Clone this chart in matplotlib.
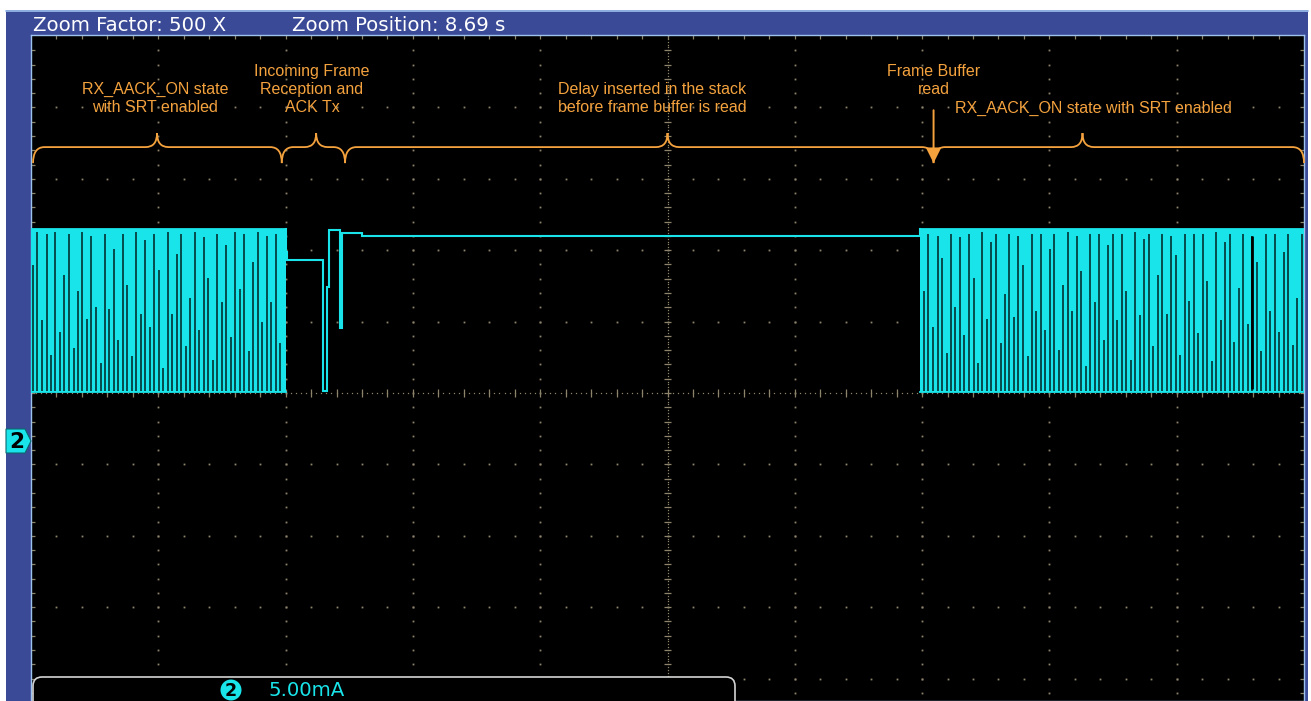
import matplotlib
matplotlib.use("Agg")
import matplotlib.pyplot as plt
from matplotlib.patches import Rectangle, Polygon, FancyBboxPatch, Circle, PathPatch
from matplotlib.path import Path
import numpy as np

# screen: 10 horizontal divisions, channel 2 at 5 mA/div
header_left = "Zoom Factor: 500 X"
header_right = "Zoom Position: 8.69 s"
ch2_scale = "5.00mA"
ma_per_div = 5.0
ground_div = -0.66          # channel 2 ground marker, in divisions from screen centre

# current bursts while in RX_AACK_ON (time in divisions)
burst_spans = [(0.0, 2.003), (6.984, 10.0)]
burst_high = 14.78
burst_low = 3.36

# dark gaps inside the bursts: position and how far up they reach (0..1 of the swing)
gaps_left_t = [0.016, 0.051, 0.086, 0.122, 0.157, 0.192, 0.228, 0.263, 0.298, 0.334,
               0.369, 0.404, 0.440, 0.475, 0.510, 0.546, 0.581, 0.616, 0.652, 0.687,
               0.722, 0.758, 0.793, 0.828, 0.864, 0.899, 0.934, 0.970, 1.005, 1.040,
               1.076, 1.111, 1.146, 1.182, 1.217, 1.252, 1.288, 1.323, 1.358, 1.394,
               1.429, 1.464, 1.500, 1.535, 1.570, 1.606, 1.641, 1.676, 1.712, 1.747,
               1.782, 1.818, 1.853, 1.888, 1.924, 1.959]
gaps_left_h = [0.78, 0.98, 0.44, 0.97, 0.23, 0.98, 0.37, 0.72, 0.97, 0.27,
               0.62, 0.98, 0.45, 0.96, 0.52, 0.18, 0.97, 0.51, 0.88, 0.32,
               0.97, 0.66, 0.22, 0.98, 0.48, 0.93, 0.40, 0.97, 0.75, 0.15,
               0.98, 0.48, 0.85, 0.97, 0.28, 0.58, 0.98, 0.38, 0.95, 0.70,
               0.20, 0.97, 0.55, 0.90, 0.34, 0.98, 0.63, 0.97, 0.25, 0.80,
               0.98, 0.43, 0.96, 0.55, 0.97, 0.30]
gaps_right_t = [7.015, 7.050, 7.086, 7.121, 7.156, 7.192, 7.227, 7.262, 7.298, 7.333,
                7.368, 7.404, 7.439, 7.474, 7.510, 7.545, 7.580, 7.616, 7.651, 7.686,
                7.722, 7.757, 7.792, 7.828, 7.863, 7.898, 7.934, 7.969, 8.004, 8.040,
                8.075, 8.110, 8.146, 8.181, 8.216, 8.252, 8.287, 8.322, 8.358, 8.393,
                8.428, 8.464, 8.499, 8.534, 8.570, 8.605, 8.640, 8.676, 8.711, 8.746,
                8.782, 8.817, 8.852, 8.888, 8.923, 8.958, 8.994, 9.029, 9.064, 9.100,
                9.135, 9.170, 9.206, 9.241, 9.276, 9.312, 9.347, 9.382, 9.418, 9.453,
                9.488, 9.524, 9.559, 9.594, 9.630, 9.665, 9.700, 9.736, 9.771, 9.806,
                9.842, 9.877, 9.912, 9.948, 9.983]
gaps_right_h = [0.62, 0.97, 0.40, 0.96, 0.82, 0.24, 0.97, 0.52, 0.95, 0.35,
                0.97, 0.70, 0.18, 0.98, 0.45, 0.92, 0.97, 0.30, 0.60, 0.97,
                0.46, 0.96, 0.78, 0.22, 0.97, 0.50, 0.97, 0.38, 0.88, 0.97,
                0.26, 0.66, 0.98, 0.50, 0.96, 0.74, 0.16, 0.97, 0.55, 0.97,
                0.32, 0.90, 0.97, 0.44, 0.97, 0.62, 0.20, 0.98, 0.47, 0.94,
                0.97, 0.28, 0.72, 0.97, 0.48, 0.96, 0.84, 0.23, 0.97, 0.56,
                0.97, 0.36, 0.97, 0.68, 0.19, 0.98, 0.44, 0.92, 0.97, 0.31,
                0.64, 0.97, 0.42, 0.96, 0.80, 0.25, 0.97, 0.50, 0.97, 0.37,
                0.86, 0.97, 0.29, 0.58, 0.97]
wide_gaps_t = [9.592]

# frame reception, ACK transmit and the idle wait before the buffer read
trace_t = [2.003, 2.003, 2.011, 2.011, 2.294, 2.294, 2.325, 2.325, 2.341, 2.341,
           2.427, 2.427, 2.443, 2.443, 2.600, 2.600, 2.603, 2.603, 6.984, 6.984]
trace_ma = [14.78, 13.17, 13.17, 12.60, 12.60, 3.43, 3.43, 10.71, 10.71, 14.71,
            14.71, 7.84, 7.84, 14.50, 14.50, 14.60, 14.60, 14.29, 14.29, 14.78]

# annotations: (start, tip, end) of each brace, in divisions
braces = [(0.016, 0.99, 1.97), (1.97, 2.24, 2.467), (2.467, 5.0, 7.09), (7.09, 8.26, 10.0)]
notes = ["RX_AACK_ON state\nwith SRT enabled",
         "Incoming Frame\nReception and\nACK Tx",
         "Delay inserted in the stack\nbefore frame buffer is read",
         "Frame Buffer\nread",
         "RX_AACK_ON state with SRT enabled"]
note_t = [0.974, 2.207, 4.878, 7.093, 8.343]
note_ma = [23.95, 24.58, 23.95, 25.21, 23.25]
buffer_read_t = 7.09

cyan = "#19e4e9"
gap_col = "#022a2a"
orange = "#f4a23e"
dot = "#8e846c"
frame_blue = "#3b4a96"
edge_blue = "#9ec2ee"

W, H = 1311, 701
fig = plt.figure(figsize=(W / 100, H / 100), dpi=100, facecolor="white")

# instrument chrome in pixel coordinates
bg = fig.add_axes([0, 0, 1, 1], zorder=0)
bg.set_xlim(0, W)
bg.set_ylim(H, 0)
bg.axis("off")
bg.add_patch(Rectangle((6, 10), 1302, 700, facecolor=frame_blue, edgecolor="none"))
bg.plot([6, 1308], [10.5, 10.5], color=edge_blue, lw=1.2)
bg.text(33, 31, header_left, color="white", fontsize=14.2, family="DejaVu Sans", va="baseline")
bg.text(292, 31, header_right, color="white", fontsize=14.2, family="DejaVu Sans", va="baseline")

# screen area
x0, x1, ytop = 31, 1304, 35
ax = fig.add_axes([x0 / W, 0, (x1 - x0) / W, (H - ytop) / H], zorder=1)
ax.set_facecolor("black")
div_top = 5.014
div_bot = -4.314
ax.set_xlim(0, 10)
ax.set_ylim((div_bot - ground_div) * ma_per_div, (div_top - ground_div) * ma_per_div)
ax.set_xticks([])
ax.set_yticks([])
for s in ax.spines.values():
    s.set_color(edge_blue)
    s.set_linewidth(1.0)


def grat_y(d):
    # graticule division -> channel 2 current
    return (d - ground_div) * ma_per_div


# graticule dots
minor_x = np.arange(1, 50) * 0.2
minor_y = np.arange(-21, 25) * 0.2
for k in range(-4, 5):
    if k == 0:
        continue
    ax.plot(minor_x, np.full_like(minor_x, grat_y(k)), ls="none", marker="s", ms=1.3,
            mec="none", mfc=dot, zorder=1)
for k in range(1, 10):
    if k == 5:
        continue
    ax.plot(np.full_like(minor_y, k), grat_y(minor_y), ls="none", marker="s", ms=1.3,
            mec="none", mfc=dot, zorder=1)

# centre lines with fine dots and minor ticks
fine_x = np.arange(0, 251) * 0.04
fine_y = np.arange(-108, 126) * 0.04
ax.plot(fine_x, np.full_like(fine_x, grat_y(0)), ls="none", marker="s", ms=0.9,
        mec="none", mfc=dot, zorder=1)
ax.plot(np.full_like(fine_y, 5), grat_y(fine_y), ls="none", marker="s", ms=0.9,
        mec="none", mfc=dot, zorder=1)
ax.vlines(minor_x, grat_y(-0.05), grat_y(0.05), color=dot, lw=0.9, zorder=1)
ax.hlines(grat_y(minor_y), 5 - 0.025, 5 + 0.025, color=dot, lw=0.9, zorder=1)

# minor ticks along the screen edges
ax.vlines(minor_x, grat_y(div_top - 0.06), grat_y(div_top), color=dot, lw=0.9, zorder=1)
ax.hlines(grat_y(minor_y), 0, 0.03, color=dot, lw=0.9, zorder=1)
ax.hlines(grat_y(minor_y), 10 - 0.03, 10, color=dot, lw=0.9, zorder=1)

# bursts
for (t0, t1) in burst_spans:
    ax.fill_between([t0, t1], burst_low, burst_high, color=cyan, lw=0, zorder=3)
    ax.plot([t0, t1], [burst_high, burst_high], color=cyan, lw=1.3, zorder=4)
    ax.plot([t0, t1], [burst_low, burst_low], color=cyan, lw=1.3, zorder=4)
swing = burst_high - burst_low
for ts, hs in ((gaps_left_t, gaps_left_h), (gaps_right_t, gaps_right_h)):
    for t, h in zip(ts, hs):
        ax.vlines(t, burst_low + 0.1, burst_low + h * swing, color=gap_col, lw=1.15, zorder=5)
ax.vlines(wide_gaps_t, burst_low + 0.2, burst_high - 0.5, color="black", lw=2.0, zorder=5)

# trace between the bursts
ax.plot(trace_t, trace_ma, color=cyan, lw=1.5, zorder=4, solid_joinstyle="miter")

# braces
y_end, y_mid, y_tip = 19.40, 20.52, 21.50
r = 0.09
for (b0, bt, b1) in braces:
    verts = [(b0, y_end), (b0, y_mid), (b0 + r, y_mid),
             (bt - r, y_mid), (bt, y_mid), (bt, y_tip),
             (bt, y_mid), (bt + r, y_mid),
             (b1 - r, y_mid), (b1, y_mid), (b1, y_end)]
    codes = [Path.MOVETO, Path.CURVE3, Path.CURVE3,
             Path.LINETO, Path.CURVE3, Path.CURVE3,
             Path.CURVE3, Path.CURVE3,
             Path.LINETO, Path.CURVE3, Path.CURVE3]
    ax.add_patch(PathPatch(Path(verts, codes), facecolor="none", edgecolor=orange,
                           lw=1.3, zorder=6, clip_on=False))

for txt, t, y in zip(notes, note_t, note_ma):
    ax.text(t, y, txt, color=orange, fontsize=11.5, family="Liberation Sans",
            ha="center", va="center", linespacing=1.25, zorder=7)

ax.annotate("", xy=(buffer_read_t, y_end), xytext=(buffer_read_t, 23.1),
            arrowprops=dict(arrowstyle="-|>,head_length=0.9,head_width=0.45",
                            color=orange, lw=1.4, shrinkA=0, shrinkB=0), zorder=7)

# overlays: channel marker and readout
fg = fig.add_axes([0, 0, 1, 1], zorder=2)
fg.set_xlim(0, W)
fg.set_ylim(H, 0)
fg.axis("off")
fg.patch.set_alpha(0)
fg.add_patch(Polygon([(6, 429), (25, 429), (31, 441), (25, 453), (6, 453)],
                     closed=True, facecolor=cyan, edgecolor="#0a6a70", lw=0.8))
fg.text(17, 442, "2", color="black", fontsize=15.5, fontweight="bold",
        ha="center", va="center", family="DejaVu Sans")
fg.add_patch(FancyBboxPatch((33, 677), 702, 40, boxstyle="round,pad=0,rounding_size=9",
                            facecolor="black", edgecolor="#d4d4d4", lw=1.2))
fg.add_patch(Circle((231, 690), 10.5, facecolor=cyan, edgecolor="none"))
fg.text(231, 691, "2", color="black", fontsize=12.5, fontweight="bold",
        ha="center", va="center", family="DejaVu Sans")
fg.text(268, 691, ch2_scale, color=cyan, fontsize=14.2, ha="left", va="center",
        family="DejaVu Sans")

fig.savefig("out.png", dpi=100, facecolor="white")
